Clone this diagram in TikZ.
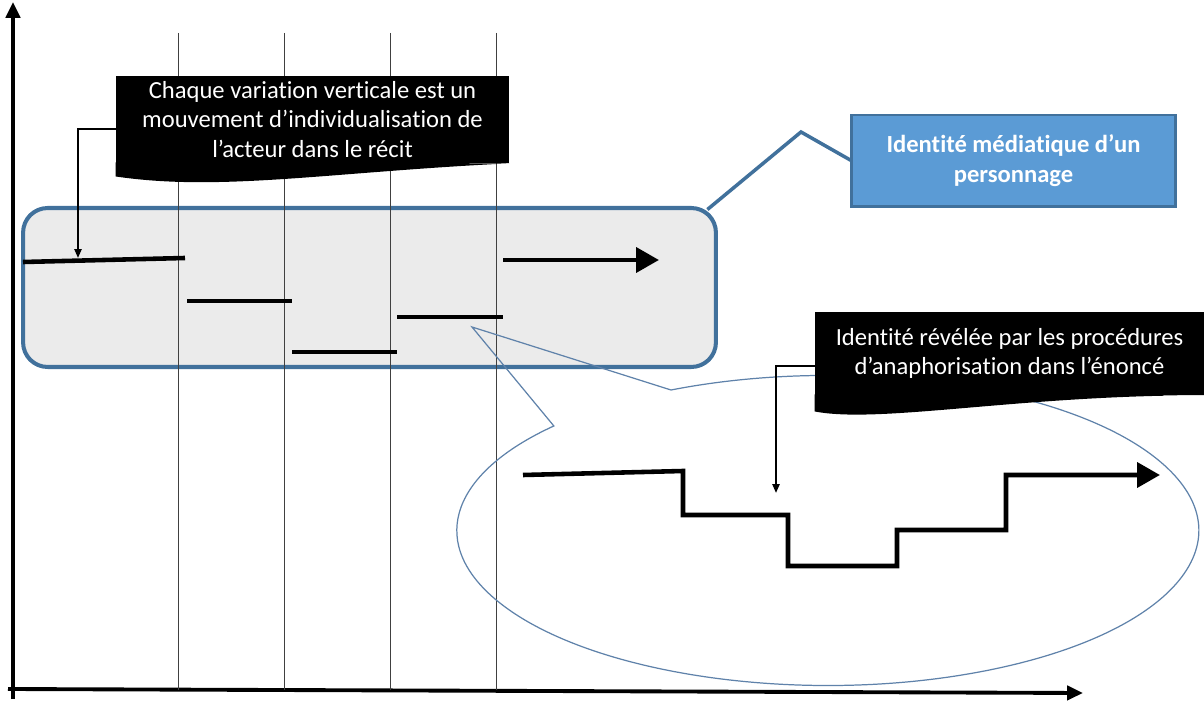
\documentclass[tikz,border=0pt]{standalone}
\usepackage{fontspec}
\setmainfont[Ligatures=NoCommon]{Carlito}
\usepackage{tikz}
\usetikzlibrary{positioning,arrows.meta}

\definecolor{boxblue}{RGB}{65,113,156}
\definecolor{fillblue}{RGB}{91,155,213}
\definecolor{lightgrey}{RGB}{235,235,235}
\definecolor{bubbleblue}{RGB}{95,130,170}

\begin{document}
\begin{tikzpicture}[x=0.02cm, y=-0.02cm,
    callout/.style={rectangle, fill=black, text=white, inner sep=2pt, align=center, font=\fontsize{14pt}{17pt}\selectfont, minimum width=7.86cm, minimum height=1.74cm},
    % thick black segments, one per episode of the narrative
    steps/.style={line width=2.6pt, line join=miter},
    bigtip/.style={-{Triangle[length=13pt,width=14pt]}},
    axis/.style={line width=2.2pt, -{Triangle[length=9pt,width=8pt]}},
    guide/.style={line width=0.5pt, black!75},
    pointer/.style={line width=1.1pt, -{Triangle[length=5pt,width=4pt]}}
  ]
    \useasboundingbox (0,0) rectangle (1204,702);

    %--- Axes
    \draw[axis] (13,699) -- (13,2);
    \draw[axis] (8,689) -- (1083,693);

    %--- Media identity (grey box) and its label
    \node[draw=boxblue, line width=2.3pt, fill=lightgrey, rounded corners=14pt,
      minimum width=13.86cm, minimum height=3.18cm] (media) at (369.5,287.5) {};

    \foreach \gx in {178,284,390,496}
      \draw[guide] (\gx,33) -- (\gx,690);

    \draw[boxblue, line width=2pt, line join=miter]
      ([xshift=-6pt,yshift=-2pt]media.north east) -- (801,132) -- (852,161);
    \node[draw=boxblue, line width=1.7pt, fill=fillblue, text=white, align=center,
      font=\fontsize{14pt}{17pt}\selectfont\bfseries,
      minimum width=6.5cm, minimum height=1.84cm] (ident) at (1013.5,161)
      {Identité médiatique d’un\\personnage};

    %--- Speech bubble round the uttered identity
    \draw[bubbleblue, line width=0.7pt] (671,390)
      arc[start angle=-115, end angle=222.4, x radius=371, y radius=155]
      -- (472,327) -- cycle;

    %--- Black callouts with a wavy bottom edge
    \node[callout] (chaque) at (312.5,119.5)
      {Chaque variation verticale est un\\mouvement d’individualisation de\\l’acteur dans le récit};
    \fill ([yshift=0.5pt]chaque.south west) -- ++(0,14) .. controls (220,192) and (330,172) .. (chaque.south east) -- cycle;

    \node[callout, minimum width=7.78cm, minimum height=1.66cm] (anapho) at (1009.5,353.5)
      {Identité révélée par les procédures\\d’anaphorisation dans l’énoncé};
    \fill ([yshift=0.5pt]anapho.south west) -- ++(0,17) .. controls (880,424) and (1020,395) .. (anapho.south east) -- cycle;

    %--- Steps inside the grey box
    \draw[steps] (23,262) -- (185,258);
    \draw[steps] (187,301) -- (292,301);
    \draw[steps] (292,352) -- (397,352);
    \draw[steps] (397,317) -- (503,317);
    \draw[steps, bigtip] (503,260) -- (659,260);

    %--- Steps inside the bubble
    \draw[steps, bigtip] (523,475) -- (683,471) |- (788,515) |- (897,566) |- (1006,530) |- (1160,475);

    %--- Callout connectors
    \coordinate (tip1) at (78,258);
    \coordinate (tip2) at (776,493);
    \draw[pointer] (chaque.west |- 0,129) -| (tip1);
    \draw[pointer] (anapho.west |- 0,366) -| (tip2);
  \end{tikzpicture}
\end{document}
